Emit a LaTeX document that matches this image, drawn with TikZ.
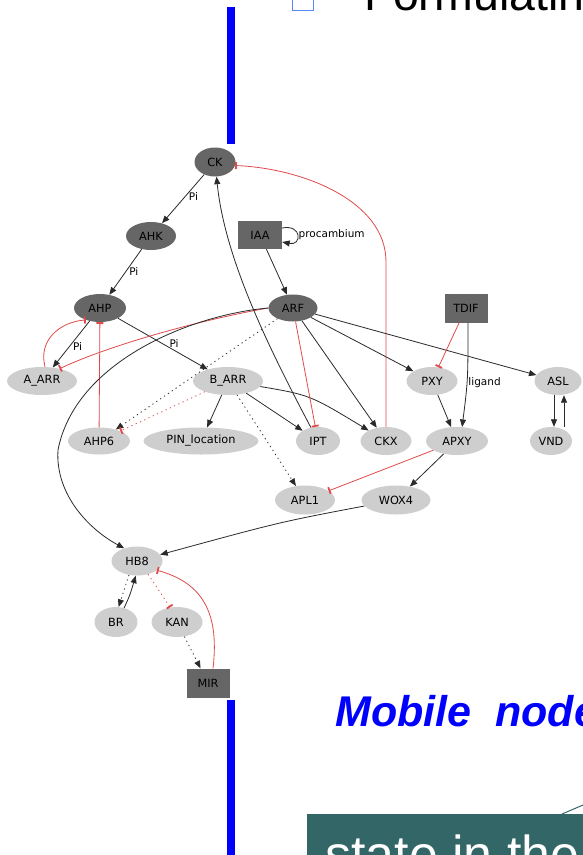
\documentclass[tikz,border=0pt]{standalone}
\usepackage{fontspec}
\newfontfamily\gvfont{DejaVu Sans}
\newfontfamily\slidefont{Liberation Sans}
\usetikzlibrary{shapes.geometric,arrows.meta}

\definecolor{gvdark}{HTML}{666666}
\definecolor{gvlight}{HTML}{CECECE}
\definecolor{gvred}{HTML}{E04A4A}
\definecolor{gvline}{HTML}{2A2A2A}
\definecolor{slideblue}{HTML}{0000FF}
\definecolor{boxteal}{HTML}{336666}
\definecolor{checkblue}{HTML}{5585FF}

\begin{document}
\begin{tikzpicture}[
			x = 1pt, y = -1pt,
			every node/.style = {font=\gvfont\fontsize{10.5}{12}\selectfont},
			gvnode/.style = {inner sep=0pt, minimum height=28pt, font=\gvfont\fontsize{11.3}{13}\selectfont},
			gene/.style = {gvnode, ellipse, fill=gvlight},
			hub/.style = {gvnode, ellipse, fill=gvdark},
			signal/.style = {gvnode, rectangle, fill=gvdark, minimum width=43pt, minimum height=29pt},
			act/.style = {draw=gvline, line width=0.8pt, -{Triangle[length=7.5pt,width=6pt]}},
			inh/.style = {draw=gvred, line width=0.8pt, -{Bar[width=7pt,line width=1.8pt]}},
			dots/.style = {dash pattern=on 1.2pt off 3.5pt}]

			\useasboundingbox (0,0) rectangle (583,855);
			\clip (0,0) rectangle (583,855);
			\fill[white] (0,0) rectangle (583,855);

			% slide around the network
			\fill[slideblue] (227,7) rectangle (235,144);
			\fill[slideblue] (227,700) rectangle (235,860);
			\draw[checkblue, line width=1pt] (292.5,-12) rectangle (313,10);
			\node[anchor=base west, inner sep=0pt, font=\slidefont\fontsize{46.5}{50}\selectfont] (title) at (364.5,10.5) {Formulatin};
			\node[anchor=base west, inner sep=0pt, text=slideblue, font=\slidefont\bfseries\itshape\fontsize{43}{48}\selectfont] (mobile) at (335,726) {Mobile\ \ node};
			\fill[boxteal] (307,814) rectangle (590,860);
			\draw[boxteal, line width=1pt] (562,814) -- (590,802);
			\node[anchor=base west, inner sep=0pt, text=white, font=\slidefont\fontsize{52}{56}\selectfont] (state) at (325,872) {state in the};

			% nodes
			\node[hub, minimum width=41pt, minimum height=29pt] (ck) at (215,162) {CK};
			\node[hub, minimum width=50pt] (ahk) at (151,236) {AHK};
			\node[signal, minimum width=44pt, minimum height=28pt] (iaa) at (260,235) {IAA};
			\node[hub, minimum width=49pt, minimum height=27pt] (arf) at (293,308) {ARF};
			\node[hub, minimum width=52pt] (ahp) at (100,308) {AHP};
			\node[signal] (tdif) at (466,308) {TDIF};
			\node[gene, minimum width=70pt] (aarr) at (42,381) {A\_ARR};
			\node[gene, minimum width=70pt] (barr) at (228,381) {B\_ARR};
			\node[gene, minimum width=51pt] (pxy) at (432,381) {PXY};
			\node[gene, minimum width=47pt] (asl) at (558,381) {ASL};
			\node[gene, minimum width=62pt, minimum height=27pt] (ahpsix) at (99,441) {AHP6};
			\node[gene, minimum width=115pt, minimum height=27pt] (pin) at (201,441) {PIN\_location};
			\node[gene, minimum width=44pt] (ipt) at (318,441) {IPT};
			\node[gene, minimum width=51pt] (ckx) at (386,441) {CKX};
			\node[gene, minimum width=62pt] (apxy) at (457,441) {APXY};
			\node[gene, minimum width=42pt] (vnd) at (551,441) {VND};
			\node[gene, minimum width=60pt, minimum height=29pt] (aplone) at (305,500) {APL1};
			\node[gene, minimum width=69pt, minimum height=29pt] (wox) at (396,500) {WOX4};
			\node[gene, minimum width=51pt, minimum height=29pt] (hb) at (137,561) {HB8};
			\node[gene, minimum width=43pt, minimum height=30pt] (br) at (116,622) {BR};
			\node[gene, minimum width=51pt, minimum height=30pt] (kan) at (177,622) {KAN};
			\node[signal] (mir) at (208,683) {MIR};

			% edges
			\draw[act] (ck) -- node[right, pos=.45] (pione) {Pi} (ahk);
			\draw[act] (ahk) -- node[right] (pitwo) {Pi} (ahp);
			\draw[act] (ahp) -- node[right, pos=.55] (pithree) {Pi} (aarr);
			\draw[act] (ahp) -- node[right=3pt, pos=.5] (pifour) {Pi} (barr);
			\draw[act] ([yshift=7pt]iaa.east) .. controls +(20,-4) and +(20,4) .. node[right, inner sep=1pt] (loop) {procambium} ([yshift=-7pt]iaa.east);
			\draw[act] (iaa) -- (arf);

			\draw[inh] ([xshift=3pt]aarr.north) .. controls (38,340) and (60,322) .. (ahp.220);
			\draw[inh] (ahpsix) -- (ahp);
			\draw[inh] (arf.west) .. controls (200,320) and (110,345) .. (aarr.35);
			\draw[act] (arf.west) .. controls (190,315) and (75,362) .. (58,450) .. controls (55,495) and (90,530) .. (hb.135);
			\draw[act, dots] (arf) -- (ahpsix);
			\draw[inh, dots] (barr) -- (ahpsix);

			\draw[act] (barr) -- (pin);
			\draw[act] (barr) -- (ipt);
			\draw[act] (barr) .. controls (310,395) .. (ckx);
			\draw[act, dots] (barr) -- (aplone);
			\draw[act] (ipt) .. controls (270,350) and (225,260) .. (ck);
			\draw[inh] (arf) -- (ipt);
			\draw[act] (arf) -- (ckx);
			\draw[inh] (ckx.north) -- ++(0,-165) .. controls +(0,-62) and (300,168) .. (ck.-10);

			\draw[act] (arf) -- (pxy);
			\draw[act] (arf) -- (asl);
			\draw[inh] (tdif) -- (pxy);
			\draw[act] ([xshift=2pt]tdif.south) .. controls (468,380) .. node[right, pos=.55, inner sep=1pt] (ligand) {ligand} (apxy.70);
			\draw[act] (pxy) -- (apxy);
			\draw[act] ([xshift=-4pt]asl.south) -- ([xshift=3pt]vnd.north);
			\draw[act] ([xshift=13pt]vnd.north) -- ([xshift=6pt]asl.south);

			\draw[inh] (apxy) -- (aplone);
			\draw[act] (apxy) -- (wox);
			\draw[act] (wox) .. controls (280,522) .. (hb);

			\draw[act, dots] (hb.240) -- (br.80);
			\draw[act] (br.60) .. controls (130,595) .. (hb.265);
			\draw[inh, dots] (hb.310) -- (kan.115);
			\draw[act, dots] (kan) -- (mir);
			\draw[inh] ([xshift=5pt]mir.north) .. controls (220,610) and (200,582) .. (hb.-25);

		\end{tikzpicture}
\end{document}
